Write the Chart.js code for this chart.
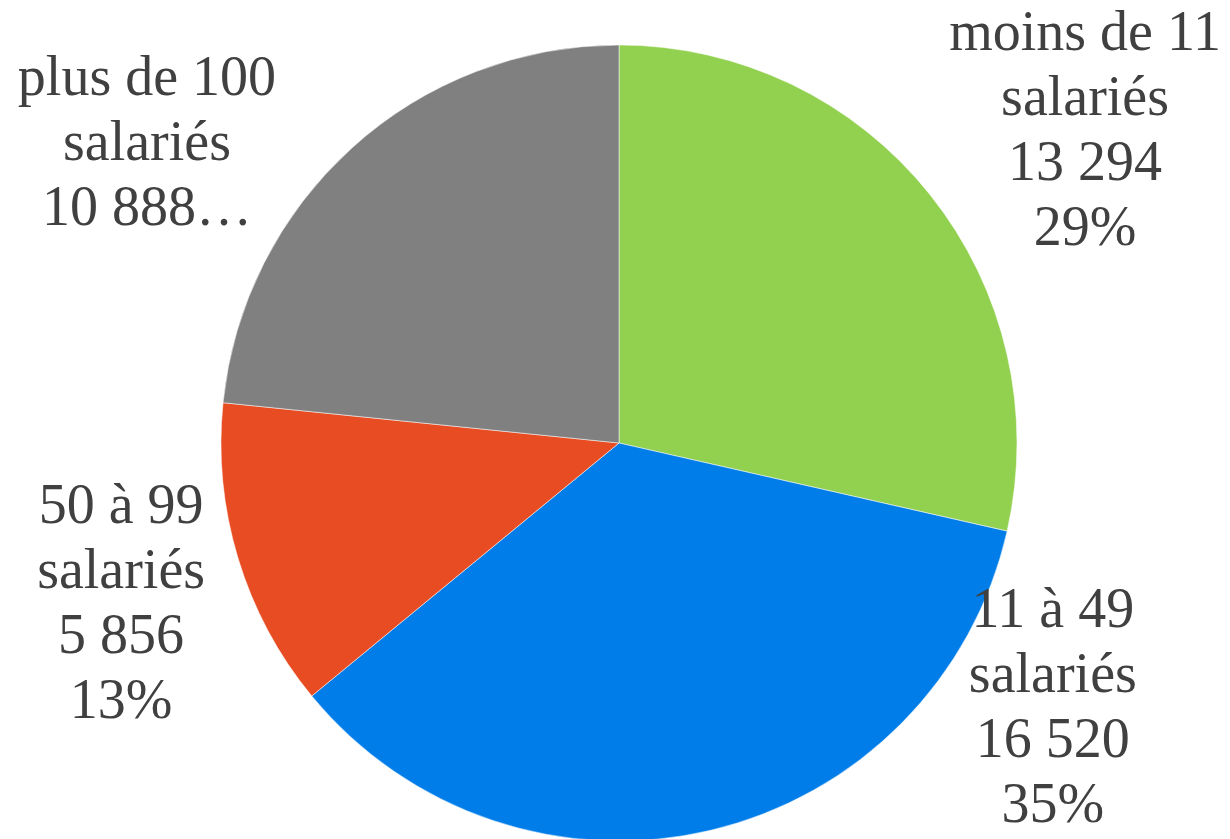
<!DOCTYPE html>
<html>
<head>
<meta charset="utf-8">
<script src="https://cdn.jsdelivr.net/npm/chart.js@4/dist/chart.umd.min.js"></script>
<style>
  html, body { margin: 0; padding: 0; background: #fff; overflow: hidden; }
  #wrap { position: absolute; left: 0; top: 0; width: 1230px; height: 845px; }
</style>
</head>
<body>
<div id="wrap"><canvas id="pieChart"></canvas></div>
<script>
// Données du graphique
const categories = [
    ["moins de 11", "salariés"],
    ["11 à 49", "salariés"],
    ["50 à 99", "salariés"],
    ["plus de 100", "salariés"]
];
const valeurs = [13294, 16520, 5856, 10888];
const couleurs = ["#92d050", "#007de8", "#e84c22", "#808080"];
// étiquette tronquée (comme dans l'original)
const tronque = [false, false, false, true];
// position de la 1re ligne de chaque étiquette, en rayons depuis le centre
const ancrages = [[1.171, -0.987], [1.090, 0.462], [-1.251, 0.201], [-1.186, -0.874]];

function formatNombre(v) {
    return String(v).replace(/\B(?=(\d{3})+(?!\d))/g, " ");
}

// Plugin maison pour les étiquettes
const etiquettes = {
    id: "etiquettes",
    afterDatasetsDraw(chart) {
        const ctx = chart.ctx;
        const meta = chart.getDatasetMeta(0);
        const total = valeurs.reduce((a, b) => a + b, 0);
        ctx.save();
        ctx.font = "56px 'Liberation Serif', serif";
        ctx.fillStyle = "#404040";
        ctx.textAlign = "center";
        ctx.textBaseline = "alphabetic";
        meta.data.forEach((arc, i) => {
            const r = arc.outerRadius;
            const x = arc.x + ancrages[i][0] * r;
            let y = arc.y + ancrages[i][1] * r;
            const lignes = [...categories[i]];
            if (tronque[i]) {
                lignes.push(formatNombre(valeurs[i]) + "…");
            } else {
                lignes.push(formatNombre(valeurs[i]));
                lignes.push(Math.round(valeurs[i] / total * 100) + "%");
            }
            lignes.forEach(l => { ctx.fillText(l, x, y); y += 65; });
        });
        ctx.restore();
    }
};

new Chart(document.getElementById("pieChart"), {
    type: "pie",
    data: {
        labels: categories.map(c => c.join(" ")),
        datasets: [{
            data: valeurs,
            backgroundColor: couleurs,
            borderColor: "rgba(255,255,255,0.5)",
            borderWidth: 1,
            radius: 398
        }]
    },
    options: {
        responsive: true,
        maintainAspectRatio: false,
        animation: false,
        layout: { padding: { top: 45, bottom: 4, left: 221, right: 213 } },
        plugins: {
            legend: { display: false },
            tooltip: { enabled: false }
        }
    },
    plugins: [etiquettes]
});
</script>
</body>
</html>
